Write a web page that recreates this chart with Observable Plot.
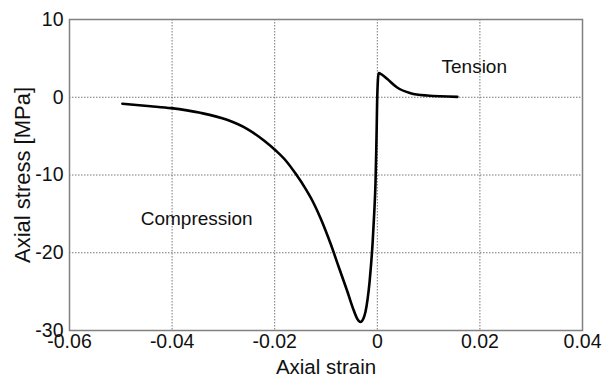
<!DOCTYPE html>
<html>
<head>
<meta charset="utf-8">
<script src="https://cdn.jsdelivr.net/npm/d3@7"></script>
<script src="https://cdn.jsdelivr.net/npm/@observablehq/plot@0.6"></script>
<style>
  html, body { margin: 0; padding: 0; background: #fff; }
  #chart svg { display: block; }
</style>
</head>
<body>
<div id="chart"></div>
<script>
const strain = [-0.0497, -0.0442, -0.0402, -0.0345, -0.0293, -0.0254, -0.0221, -0.0198, -0.0179, -0.0159,
  -0.0140, -0.0125, -0.0111, -0.0091, -0.0075, -0.0059, -0.0046, -0.0039, -0.0033, -0.0027,
  -0.0023, -0.0019, -0.0015, -0.0012, -0.0009, -0.0006, -0.00035, -0.00022, -0.00012, -0.00003,
  0.00026, 0.0009, 0.0019, 0.0038, 0.0065, 0.0097, 0.0156];
const stress = [-0.84, -1.15, -1.4, -2.0, -2.9, -4.06, -5.56, -6.85, -8.1, -9.85,
  -11.75, -13.5, -15.5, -18.85, -21.86, -24.86, -27.4, -28.5, -28.9, -28.45,
  -27.6, -26.0, -23.7, -21.4, -18.6, -14.9, -11.0, -7.3, -4.0, -0.5,
  3.1, 2.9, 2.37, 1.29, 0.52, 0.22, 0.05];
const xTicks = [-0.06, -0.04, -0.02, 0, 0.02, 0.04];
const yTicks = [-30, -20, -10, 0, 10];
const annotations = [
  {label: "Compression", x: -0.0352, y: -15.7},
  {label: "Tension", x: 0.0189, y: 3.95}
];
const xLabel = "Axial strain";
const yLabel = "Axial stress [MPa]";

const data = strain.map((s, i) => ({strain: s, stress: stress[i]}));
const fmt = d => d === 0 ? "0" : (d < 0 ? "-" : "") + Math.abs(d).toString();
const font = "'Liberation Sans', Arial, sans-serif";

const chart = Plot.plot({
  width: 603,
  height: 379,
  marginLeft: 69,
  marginRight: 21,
  marginTop: 19,
  marginBottom: 49,
  style: {fontFamily: font, fontSize: "19px", color: "#111", background: "#fff"},
  x: {domain: [-0.06, 0.04]},
  y: {domain: [-30, 10]},
  marks: [
    Plot.gridX(xTicks, {stroke: "#777", strokeOpacity: 1, strokeWidth: 1, strokeDasharray: "1.5,1.5"}),
    Plot.gridY(yTicks, {stroke: "#777", strokeOpacity: 1, strokeWidth: 1, strokeDasharray: "1.5,1.5"}),
    Plot.frame({stroke: "#808080", strokeWidth: 1.5}),
    Plot.axisX(xTicks, {tickSize: 0, tickPadding: 4, tickFormat: fmt, fontSize: 19.5, label: null}),
    Plot.axisY(yTicks, {tickSize: 0, tickPadding: 6, tickFormat: fmt, fontSize: 19.5, label: null}),
    Plot.text([xLabel], {frameAnchor: "bottom", lineAnchor: "middle", dy: 37, fontSize: 20.5, text: d => d}),
    Plot.text([yLabel], {frameAnchor: "left", textAnchor: "middle", lineAnchor: "middle", dx: -47, rotate: -90, fontSize: 22, text: d => d}),
    Plot.line(data, {x: "strain", y: "stress", stroke: "#000", strokeWidth: 2.6, curve: "monotone-x"}),
    Plot.text(annotations, {x: "x", y: "y", text: "label", lineAnchor: "middle", fontSize: 19, fill: "#111"})
  ]
});
document.getElementById("chart").appendChild(chart);
</script>
</body>
</html>
